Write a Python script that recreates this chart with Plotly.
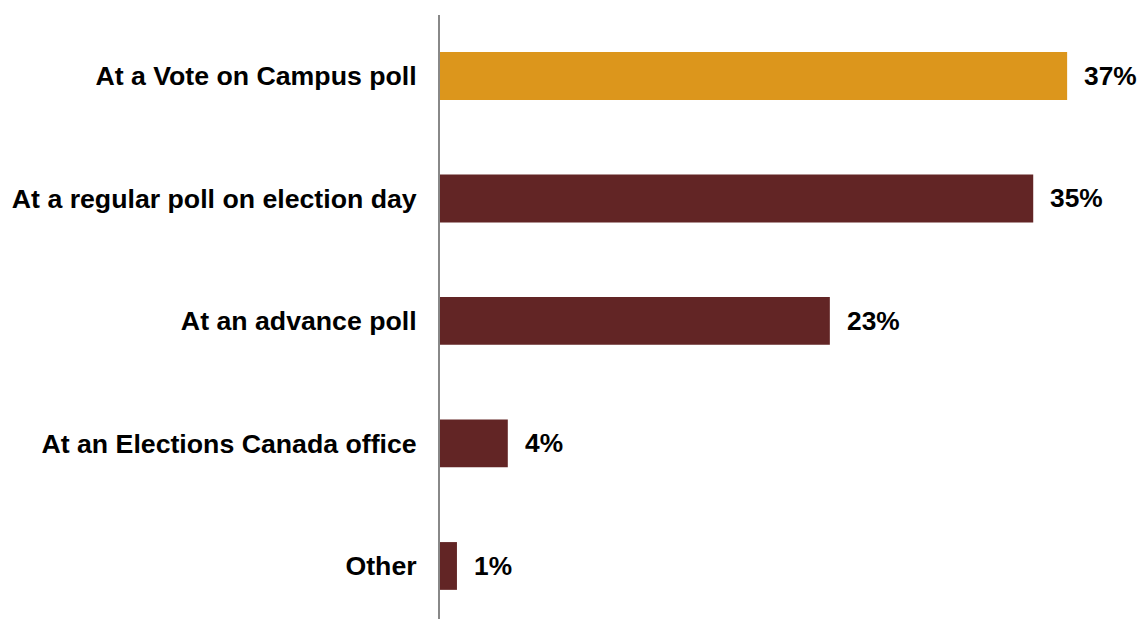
import plotly.graph_objects as go

# Where respondents voted
categories = [
    "At a Vote on Campus poll",
    "At a regular poll on election day",
    "At an advance poll",
    "At an Elections Canada office",
    "Other",
]
shares = [37, 35, 23, 4, 1]
bar_colors = ["#DC961C", "#622525", "#622525", "#622525", "#622525"]

font_family = "Liberation Sans, Arial, sans-serif"

fig = go.Figure(
    go.Bar(
        x=shares,
        y=categories,
        orientation="h",
        width=0.39,
        marker=dict(color=bar_colors, line=dict(width=0)),
        hoverinfo="skip",
    )
)

# Value labels to the right of each bar
for cat, val in zip(categories, shares):
    fig.add_annotation(
        x=val,
        y=cat,
        text=f"<b>{val}%</b>",
        showarrow=False,
        xanchor="left",
        yanchor="middle",
        xshift=15,
        font=dict(family=font_family, size=26.3, color="#000000"),
    )

fig.update_layout(
    width=1139,
    height=619,
    margin=dict(l=440, r=0, t=15, b=0),
    paper_bgcolor="white",
    plot_bgcolor="white",
    showlegend=False,
    xaxis=dict(
        range=[0, 41.24],
        visible=False,
        showgrid=False,
        zeroline=False,
    ),
    yaxis=dict(
        type="category",
        categoryorder="array",
        categoryarray=categories,
        range=[4.433, -0.498],
        showline=True,
        linecolor="#888888",
        linewidth=2,
        showgrid=False,
        zeroline=False,
        ticks="",
        ticklabelstandoff=16,
        tickfont=dict(family=font_family, size=26.7, color="#000000", weight="bold"),
    ),
)

fig.write_html("out.html")
